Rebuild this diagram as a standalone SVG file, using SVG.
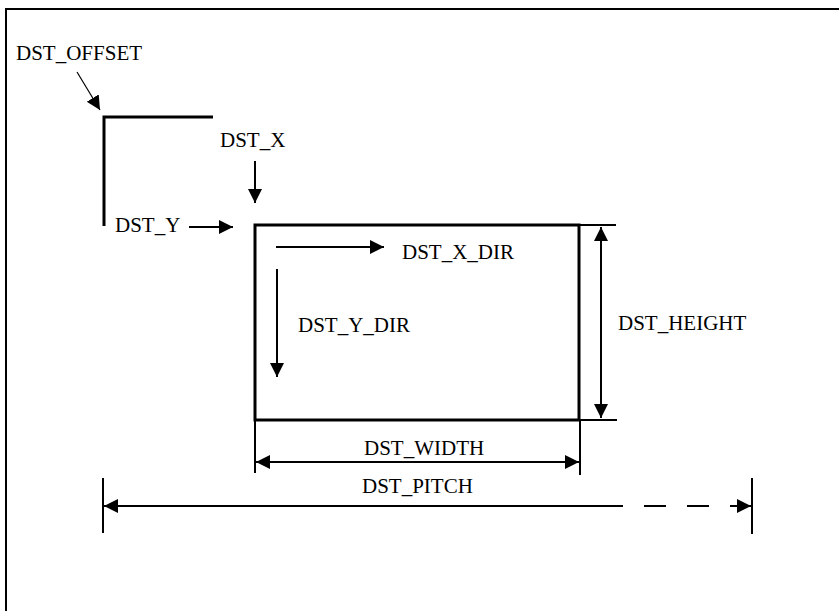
<svg xmlns="http://www.w3.org/2000/svg" width="839" height="611" viewBox="0 0 839 611">
<style>
text{font-family:"Liberation Serif","Times New Roman",serif;font-size:21px;fill:#000}
.ln{stroke:#000;stroke-width:2;fill:none}
.thick{stroke:#000;stroke-width:3;fill:none}
.thin{stroke:#000;stroke-width:1.2;fill:none}
</style>
<defs>
<marker id="ah" markerUnits="userSpaceOnUse" markerWidth="16" markerHeight="16" refX="14" refY="7" orient="auto-start-reverse">
<path d="M0,0 L14,7 L0,14 z" fill="#000"/>
</marker>
</defs>
<rect width="839" height="611" fill="#fff"/>
<g id="frame">
<polyline class="ln" points="6,611 6,9 839,9"/>
</g>
<g id="offset-corner">
<polyline class="thick" points="213,117 104,117 104,226"/>
</g>
<g id="dst-rect">
<rect class="thick" x="255" y="225" width="324" height="195"/>
</g>
<g id="labels">
<text x="16" y="60">DST_OFFSET</text>
<text x="220" y="147">DST_X</text>
<text x="115" y="232">DST_Y</text>
<text x="402" y="259">DST_X_DIR</text>
<text x="298" y="332">DST_Y_DIR</text>
<text x="618" y="330">DST_HEIGHT</text>
<text x="364" y="455">DST_WIDTH</text>
<text x="362" y="493">DST_PITCH</text>
</g>
<g id="connectors">
<line class="thin" x1="77" y1="72" x2="100" y2="110" marker-end="url(#ah)"/>
<line class="ln" x1="255" y1="161" x2="255" y2="203" marker-end="url(#ah)"/>
<line class="ln" x1="189" y1="227" x2="233" y2="227" marker-end="url(#ah)"/>
<line class="ln" x1="276" y1="247" x2="384" y2="247" marker-end="url(#ah)"/>
<line class="ln" x1="277" y1="269" x2="277" y2="377" marker-end="url(#ah)"/>
<line class="ln" x1="579" y1="225" x2="616" y2="225"/>
<line class="ln" x1="579" y1="420" x2="617" y2="420"/>
<line class="ln" x1="601" y1="227" x2="601" y2="418" marker-start="url(#ah)" marker-end="url(#ah)"/>
<line class="ln" x1="255" y1="420" x2="255" y2="473"/>
<line class="ln" x1="580" y1="420" x2="580" y2="475"/>
<line class="ln" x1="256" y1="462" x2="579" y2="462" marker-start="url(#ah)" marker-end="url(#ah)"/>
<line class="ln" x1="103" y1="478" x2="103" y2="533"/>
<line class="ln" x1="752" y1="478" x2="752" y2="534"/>
<line class="ln" x1="104" y1="506" x2="623" y2="506" marker-start="url(#ah)"/>
<line class="ln" x1="644" y1="506" x2="666" y2="506"/>
<line class="ln" x1="687" y1="506" x2="709" y2="506"/>
<line class="ln" x1="730" y1="506" x2="751" y2="506" marker-end="url(#ah)"/>
</g>
</svg>
